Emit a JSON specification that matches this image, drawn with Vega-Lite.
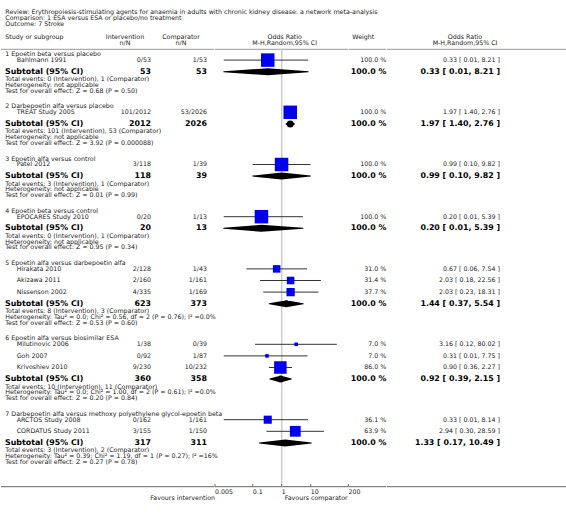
{
  "$schema": "https://vega.github.io/schema/vega-lite/v6.json",
  "padding": 0,
  "bounds": "flush",
  "background": "white",
  "config": {"view": {"stroke": null}, "concat": {"spacing": 0}, "text": {"font": "DejaVu Sans", "fontSize": 6.3, "color": "#222", "fill": "#222"}},
  "datasets": {
    "rows": [
      {"line": -7, "kind": "title", "label": "Review:  Erythropoiesis-stimulating agents for anaemia in adults with chronic kidney disease: a network meta-analysis"},
      {"line": -6, "kind": "title", "label": "Comparison:  1 ESA versus ESA or placebo/no treatment"},
      {"line": -5, "kind": "title", "label": "Outcome:  7 Stroke"},
      {"line": -3, "kind": "head", "label": "Study or subgroup", "int": "Intervention", "comp": "Comparator", "forh": "Odds Ratio", "wt": "Weight", "orci": "Odds Ratio"},
      {"line": -2, "kind": "head", "int": "n/N", "comp": "n/N", "forh": "M-H,Random,95% CI", "orci": "M-H,Random,95% CI"},
      {"line": 0, "kind": "group", "label": "1 Epoetin beta versus placebo"},
      {"line": 1, "kind": "study", "label": "Bahlmann 1991", "int": "0/53", "comp": "1/53", "wt": "100.0 %", "orci": "0.33 [ 0.01, 8.21 ]", "est": 0.33, "lo": 0.01, "hi": 8.21, "w": 100},
      {"line": 3, "kind": "sub", "label": "Subtotal (95% CI)", "int": "53", "comp": "53", "wt": "100.0 %", "orci": "0.33 [ 0.01, 8.21 ]", "est": 0.33, "lo": 0.01, "hi": 8.21},
      {"line": 4, "kind": "note", "label": "Total events: 0 (Intervention), 1 (Comparator)"},
      {"line": 5, "kind": "note", "label": "Heterogeneity: not applicable"},
      {"line": 6, "kind": "note", "label": "Test for overall effect: Z = 0.68 (P = 0.50)"},
      {"line": 9, "kind": "group", "label": "2 Darbepoetin alfa versus placebo"},
      {"line": 10, "kind": "study", "label": "TREAT Study 2005", "int": "101/2012", "comp": "53/2026", "wt": "100.0 %", "orci": "1.97 [ 1.40, 2.76 ]", "est": 1.97, "lo": 1.40, "hi": 2.76, "w": 100},
      {"line": 12, "kind": "sub", "label": "Subtotal (95% CI)", "int": "2012", "comp": "2026", "wt": "100.0 %", "orci": "1.97 [ 1.40, 2.76 ]", "est": 1.97, "lo": 1.40, "hi": 2.76},
      {"line": 13, "kind": "note", "label": "Total events: 101 (Intervention), 53 (Comparator)"},
      {"line": 14, "kind": "note", "label": "Heterogeneity: not applicable"},
      {"line": 15, "kind": "note", "label": "Test for overall effect: Z = 3.92 (P = 0.000088)"},
      {"line": 18, "kind": "group", "label": "3 Epoetin alfa versus control"},
      {"line": 19, "kind": "study", "label": "Patel 2012", "int": "3/118", "comp": "1/39", "wt": "100.0 %", "orci": "0.99 [ 0.10, 9.82 ]", "est": 0.99, "lo": 0.10, "hi": 9.82, "w": 100},
      {"line": 21, "kind": "sub", "label": "Subtotal (95% CI)", "int": "118", "comp": "39", "wt": "100.0 %", "orci": "0.99 [ 0.10, 9.82 ]", "est": 0.99, "lo": 0.10, "hi": 9.82},
      {"line": 22, "kind": "note", "label": "Total events: 3 (Intervention), 1 (Comparator)"},
      {"line": 23, "kind": "note", "label": "Heterogeneity: not applicable"},
      {"line": 24, "kind": "note", "label": "Test for overall effect: Z = 0.01 (P = 0.99)"},
      {"line": 27, "kind": "group", "label": "4 Epoetin beta versus control"},
      {"line": 28, "kind": "study", "label": "EPOCARES Study 2010", "int": "0/20", "comp": "1/13", "wt": "100.0 %", "orci": "0.20 [ 0.01, 5.39 ]", "est": 0.20, "lo": 0.01, "hi": 5.39, "w": 100},
      {"line": 30, "kind": "sub", "label": "Subtotal (95% CI)", "int": "20", "comp": "13", "wt": "100.0 %", "orci": "0.20 [ 0.01, 5.39 ]", "est": 0.20, "lo": 0.01, "hi": 5.39},
      {"line": 31, "kind": "note", "label": "Total events: 0 (Intervention), 1 (Comparator)"},
      {"line": 32, "kind": "note", "label": "Heterogeneity: not applicable"},
      {"line": 33, "kind": "note", "label": "Test for overall effect: Z = 0.95 (P = 0.34)"},
      {"line": 36, "kind": "group", "label": "5 Epoetin alfa versus darbepoetin alfa"},
      {"line": 37, "kind": "study", "label": "Hirakata 2010", "int": "2/128", "comp": "1/43", "wt": "31.0 %", "orci": "0.67 [ 0.06, 7.54 ]", "est": 0.67, "lo": 0.06, "hi": 7.54, "w": 31.0},
      {"line": 39, "kind": "study", "label": "Akizawa 2011", "int": "2/160", "comp": "1/161", "wt": "31.4 %", "orci": "2.03 [ 0.18, 22.56 ]", "est": 2.03, "lo": 0.18, "hi": 22.56, "w": 31.4},
      {"line": 41, "kind": "study", "label": "Nissenson 2002", "int": "4/335", "comp": "1/169", "wt": "37.7 %", "orci": "2.03 [ 0.23, 18.31 ]", "est": 2.03, "lo": 0.23, "hi": 18.31, "w": 37.7},
      {"line": 43, "kind": "sub", "label": "Subtotal (95% CI)", "int": "623", "comp": "373", "wt": "100.0 %", "orci": "1.44 [ 0.37, 5.54 ]", "est": 1.44, "lo": 0.37, "hi": 5.54},
      {"line": 44, "kind": "note", "label": "Total events: 8 (Intervention), 3 (Comparator)"},
      {"line": 45, "kind": "note", "label": "Heterogeneity: Tau² = 0.0; Chi² = 0.56, df = 2 (P = 0.76); I² =0.0%"},
      {"line": 46, "kind": "note", "label": "Test for overall effect: Z = 0.53 (P = 0.60)"},
      {"line": 49, "kind": "group", "label": "6 Epoetin alfa versus biosimilar ESA"},
      {"line": 50, "kind": "study", "label": "Milutinovic 2006", "int": "1/38", "comp": "0/39", "wt": "7.0 %", "orci": "3.16 [ 0.12, 80.02 ]", "est": 3.16, "lo": 0.12, "hi": 80.02, "w": 7.0},
      {"line": 52, "kind": "study", "label": "Goh 2007", "int": "0/92", "comp": "1/87", "wt": "7.0 %", "orci": "0.31 [ 0.01, 7.75 ]", "est": 0.31, "lo": 0.01, "hi": 7.75, "w": 7.0},
      {"line": 54, "kind": "study", "label": "Krivoshiev 2010", "int": "9/230", "comp": "10/232", "wt": "86.0 %", "orci": "0.90 [ 0.36, 2.27 ]", "est": 0.90, "lo": 0.36, "hi": 2.27, "w": 86.0},
      {"line": 56, "kind": "sub", "label": "Subtotal (95% CI)", "int": "360", "comp": "358", "wt": "100.0 %", "orci": "0.92 [ 0.39, 2.15 ]", "est": 0.92, "lo": 0.39, "hi": 2.15},
      {"line": 57, "kind": "note", "label": "Total events: 10 (Intervention), 11 (Comparator)"},
      {"line": 58, "kind": "note", "label": "Heterogeneity: Tau² = 0.0; Chi² = 1.00, df = 2 (P = 0.61); I² =0.0%"},
      {"line": 59, "kind": "note", "label": "Test for overall effect: Z = 0.20 (P = 0.84)"},
      {"line": 62, "kind": "group", "label": "7 Darbepoetin alfa versus methoxy polyethylene glycol-epoetin beta"},
      {"line": 63, "kind": "study", "label": "ARCTOS Study 2008", "int": "0/162", "comp": "1/161", "wt": "36.1 %", "orci": "0.33 [ 0.01, 8.14 ]", "est": 0.33, "lo": 0.01, "hi": 8.14, "w": 36.1},
      {"line": 65, "kind": "study", "label": "CORDATUS Study 2011", "int": "3/155", "comp": "1/150", "wt": "63.9 %", "orci": "2.94 [ 0.30, 28.59 ]", "est": 2.94, "lo": 0.30, "hi": 28.59, "w": 63.9},
      {"line": 67, "kind": "sub", "label": "Subtotal (95% CI)", "int": "317", "comp": "311", "wt": "100.0 %", "orci": "1.33 [ 0.17, 10.49 ]", "est": 1.33, "lo": 0.17, "hi": 10.49},
      {"line": 68, "kind": "note", "label": "Total events: 3 (Intervention), 2 (Comparator)"},
      {"line": 69, "kind": "note", "label": "Heterogeneity: Tau² = 0.39; Chi² = 1.19, df = 1 (P = 0.27); I² =16%"},
      {"line": 70, "kind": "note", "label": "Test for overall effect: Z = 0.27 (P = 0.78)"}
    ],
    "ticks": [
      {"v": 0.005, "lab": "0.005"},
      {"v": 0.1, "lab": "0.1"},
      {"v": 1, "lab": "1"},
      {"v": 10, "lab": "10"},
      {"v": 200, "lab": "200"}
    ]
  },
  "hconcat": [
    {
      "width": 150, "height": 517,
      "data": {"name": "rows"},
      "layer": [
        {"data": {"values": [{"a": 1}]}, "mark": {"type": "rule", "color": "#999", "strokeWidth": 1}, "encoding": {"y": {"datum": -0.86, "type": "quantitative", "scale": {"domain": [-9.362, 79.776], "reverse": true, "nice": false, "zero": false}, "axis": null}}},
        {"data": {"values": [{"a": 1}]}, "mark": {"type": "rule", "color": "#666", "strokeWidth": 1}, "encoding": {"y": {"datum": 74.55, "type": "quantitative", "scale": {"domain": [-9.362, 79.776], "reverse": true, "nice": false, "zero": false}, "axis": null}}},
        {"transform": [{"filter": "datum.kind === 'title'"}], "mark": {"type": "text", "align": "left", "baseline": "middle", "dx": 4.3, "dy": -1.5, "color": "#222"},
         "encoding": {"x": {"value": 0}, "y": {"field": "line", "type": "quantitative", "scale": {"domain": [-9.362, 79.776], "reverse": true, "nice": false, "zero": false}, "axis": null}, "text": {"field": "label"}}},
        {"transform": [{"filter": "(datum.kind === 'head' || datum.kind === 'group') && datum.label != null"}], "mark": {"type": "text", "align": "left", "baseline": "middle", "dx": 4.3, "color": "#222"},
         "encoding": {"x": {"value": 0}, "y": {"field": "line", "type": "quantitative", "scale": {"domain": [-9.362, 79.776], "reverse": true, "nice": false, "zero": false}, "axis": null}, "text": {"field": "label"}}},
        {"transform": [{"filter": "datum.kind === 'study'"}], "mark": {"type": "text", "align": "left", "baseline": "middle", "dx": 15.7, "color": "#222"},
         "encoding": {"x": {"value": 0}, "y": {"field": "line", "type": "quantitative", "scale": {"domain": [-9.362, 79.776], "reverse": true, "nice": false, "zero": false}, "axis": null}, "text": {"field": "label"}}},
        {"transform": [{"filter": "datum.kind === 'note'"}], "mark": {"type": "text", "align": "left", "baseline": "middle", "dx": 4.3, "dy": 1.8, "color": "#222"},
         "encoding": {"x": {"value": 0}, "y": {"field": "line", "type": "quantitative", "scale": {"domain": [-9.362, 79.776], "reverse": true, "nice": false, "zero": false}, "axis": null}, "text": {"field": "label"}}},
        {"transform": [{"filter": "datum.kind === 'sub'"}], "mark": {"type": "text", "align": "left", "baseline": "middle", "dx": 4, "fontSize": 7.9, "fontWeight": "bold", "color": "#000"},
         "encoding": {"x": {"value": 0}, "y": {"field": "line", "type": "quantitative", "scale": {"domain": [-9.362, 79.776], "reverse": true, "nice": false, "zero": false}, "axis": null}, "text": {"field": "label"}}},
        {"transform": [{"filter": "datum.kind === 'study'"}], "mark": {"type": "text", "align": "right", "baseline": "middle", "color": "#222"},
         "encoding": {"x": {"value": "width"}, "y": {"field": "line", "type": "quantitative", "scale": {"domain": [-9.362, 79.776], "reverse": true, "nice": false, "zero": false}, "axis": null}, "text": {"field": "int"}}},
        {"transform": [{"filter": "datum.kind === 'sub'"}], "mark": {"type": "text", "align": "right", "baseline": "middle", "fontSize": 7.9, "fontWeight": "bold", "color": "#000"},
         "encoding": {"x": {"value": "width"}, "y": {"field": "line", "type": "quantitative", "scale": {"domain": [-9.362, 79.776], "reverse": true, "nice": false, "zero": false}, "axis": null}, "text": {"field": "int"}}},
        {"transform": [{"filter": "datum.kind === 'head' && datum.int != null"}], "mark": {"type": "text", "align": "center", "baseline": "middle", "dx": -26, "color": "#222"},
         "encoding": {"x": {"value": "width"}, "y": {"field": "line", "type": "quantitative", "scale": {"domain": [-9.362, 79.776], "reverse": true, "nice": false, "zero": false}, "axis": null}, "text": {"field": "int"}}}
      ]
    },
    {
      "width": 63.3, "height": 517,
      "data": {"name": "rows"},
      "layer": [
        {"data": {"values": [{"a": 1}]}, "mark": {"type": "rule", "color": "#999", "strokeWidth": 1}, "encoding": {"y": {"datum": -0.86, "type": "quantitative", "scale": {"domain": [-9.362, 79.776], "reverse": true, "nice": false, "zero": false}, "axis": null}}},
        {"data": {"values": [{"a": 1}]}, "mark": {"type": "rule", "color": "#666", "strokeWidth": 1}, "encoding": {"y": {"datum": 74.55, "type": "quantitative", "scale": {"domain": [-9.362, 79.776], "reverse": true, "nice": false, "zero": false}, "axis": null}}},
        {"transform": [{"filter": "datum.kind === 'study'"}], "mark": {"type": "text", "align": "right", "baseline": "middle", "dx": -7.3, "color": "#222"},
         "encoding": {"x": {"value": "width"}, "y": {"field": "line", "type": "quantitative", "scale": {"domain": [-9.362, 79.776], "reverse": true, "nice": false, "zero": false}, "axis": null}, "text": {"field": "comp"}}},
        {"transform": [{"filter": "datum.kind === 'sub'"}], "mark": {"type": "text", "align": "right", "baseline": "middle", "dx": -7.3, "fontSize": 7.9, "fontWeight": "bold", "color": "#000"},
         "encoding": {"x": {"value": "width"}, "y": {"field": "line", "type": "quantitative", "scale": {"domain": [-9.362, 79.776], "reverse": true, "nice": false, "zero": false}, "axis": null}, "text": {"field": "comp"}}},
        {"transform": [{"filter": "datum.kind === 'head' && datum.comp != null"}], "mark": {"type": "text", "align": "center", "baseline": "middle", "dx": -33.3, "color": "#222"},
         "encoding": {"x": {"value": "width"}, "y": {"field": "line", "type": "quantitative", "scale": {"domain": [-9.362, 79.776], "reverse": true, "nice": false, "zero": false}, "axis": null}, "text": {"field": "comp"}}}
      ]
    },
    {
      "width": 133.4, "height": 517,
      "data": {"name": "rows"},
      "layer": [
        {"data": {"values": [{"a": 1}]}, "mark": {"type": "rule", "color": "#999", "strokeWidth": 1}, "encoding": {"y": {"datum": -0.86, "type": "quantitative", "scale": {"domain": [-9.362, 79.776], "reverse": true, "nice": false, "zero": false}, "axis": null}}},
        {"data": {"values": [{"a": 1}]}, "mark": {"type": "rule", "color": "#666", "strokeWidth": 1}, "encoding": {"y": {"datum": 74.55, "type": "quantitative", "scale": {"domain": [-9.362, 79.776], "reverse": true, "nice": false, "zero": false}, "axis": null}}},
        {"data": {"values": [{"a": 1}]}, "mark": {"type": "rule", "color": "#cccccc", "strokeWidth": 1.5},
         "encoding": {"x": {"datum": 1, "type": "quantitative", "scale": {"type": "log", "domain": [0.005, 200], "nice": false}, "axis": null},
                      "y": {"datum": -0.86, "type": "quantitative", "scale": {"domain": [-9.362, 79.776], "reverse": true, "nice": false, "zero": false}, "axis": null},
                      "y2": {"datum": 74.55}}},
        {"transform": [{"filter": "datum.kind === 'head' && datum.forh != null"}], "mark": {"type": "text", "align": "center", "baseline": "middle", "dx": 3, "color": "#222"},
         "encoding": {"x": {"datum": 1, "type": "quantitative", "scale": {"type": "log", "domain": [0.005, 200], "nice": false}, "axis": null},
                      "y": {"field": "line", "type": "quantitative", "scale": {"domain": [-9.362, 79.776], "reverse": true, "nice": false, "zero": false}, "axis": null}, "text": {"field": "forh"}}},
        {"transform": [{"filter": "datum.kind === 'study'"}], "mark": {"type": "rule", "color": "#333", "strokeWidth": 1},
         "encoding": {"x": {"field": "lo", "type": "quantitative", "scale": {"type": "log", "domain": [0.005, 200], "nice": false}, "axis": null}, "x2": {"field": "hi"},
                      "y": {"field": "line", "type": "quantitative", "scale": {"domain": [-9.362, 79.776], "reverse": true, "nice": false, "zero": false}, "axis": null}}},
        {"transform": [{"filter": "datum.kind === 'study'"}], "mark": {"type": "point", "shape": "square", "filled": true, "color": "#0000ee", "opacity": 1},
         "encoding": {"x": {"field": "est", "type": "quantitative", "scale": {"type": "log", "domain": [0.005, 200], "nice": false}, "axis": null},
                      "y": {"field": "line", "type": "quantitative", "scale": {"domain": [-9.362, 79.776], "reverse": true, "nice": false, "zero": false}, "axis": null},
                      "size": {"field": "w", "type": "quantitative", "scale": {"domain": [0, 100], "range": [0, 182]}, "legend": null}}},
        {"transform": [{"filter": "datum.kind === 'sub'"}, {"fold": ["lo", "est", "hi"], "as": ["k", "v"]}], "mark": {"type": "trail", "color": "#000"},
         "encoding": {"x": {"field": "v", "type": "quantitative", "scale": {"type": "log", "domain": [0.005, 200], "nice": false}, "axis": null},
                      "y": {"field": "line", "type": "quantitative", "scale": {"domain": [-9.362, 79.776], "reverse": true, "nice": false, "zero": false}, "axis": null},
                      "size": {"field": "k", "type": "nominal", "scale": {"type": "ordinal", "domain": ["lo", "est", "hi"], "range": [0, 7, 0]}, "legend": null},
                      "detail": {"field": "line", "type": "nominal"},
                      "order": {"field": "v", "type": "quantitative"}}},
        {"data": {"name": "ticks"}, "mark": {"type": "rule", "color": "#666", "strokeWidth": 1},
         "encoding": {"x": {"field": "v", "type": "quantitative", "scale": {"type": "log", "domain": [0.005, 200], "nice": false}, "axis": null},
                      "y": {"datum": 74.1, "type": "quantitative", "scale": {"domain": [-9.362, 79.776], "reverse": true, "nice": false, "zero": false}, "axis": null},
                      "y2": {"datum": 74.55}}},
        {"data": {"name": "ticks"}, "mark": {"type": "text", "align": "left", "baseline": "middle", "color": "#222"},
         "encoding": {"x": {"field": "v", "type": "quantitative", "scale": {"type": "log", "domain": [0.005, 200], "nice": false}, "axis": null},
                      "y": {"datum": 75.4, "type": "quantitative", "scale": {"domain": [-9.362, 79.776], "reverse": true, "nice": false, "zero": false}, "axis": null},
                      "text": {"field": "lab"}}},
        {"data": {"values": [{"v": 0.005, "lab": "Favours intervention"}]}, "mark": {"type": "text", "align": "right", "baseline": "middle", "color": "#222"},
         "encoding": {"x": {"field": "v", "type": "quantitative", "scale": {"type": "log", "domain": [0.005, 200], "nice": false}, "axis": null},
                      "y": {"datum": 76.55, "type": "quantitative", "scale": {"domain": [-9.362, 79.776], "reverse": true, "nice": false, "zero": false}, "axis": null},
                      "text": {"field": "lab"}}},
        {"data": {"values": [{"v": 1, "lab": "Favours comparator"}]}, "mark": {"type": "text", "align": "left", "baseline": "middle", "dx": 3, "color": "#222"},
         "encoding": {"x": {"field": "v", "type": "quantitative", "scale": {"type": "log", "domain": [0.005, 200], "nice": false}, "axis": null},
                      "y": {"datum": 76.55, "type": "quantitative", "scale": {"domain": [-9.362, 79.776], "reverse": true, "nice": false, "zero": false}, "axis": null},
                      "text": {"field": "lab"}}}
      ]
    },
    {
      "width": 37.3, "height": 517,
      "data": {"name": "rows"},
      "layer": [
        {"data": {"values": [{"a": 1}]}, "mark": {"type": "rule", "color": "#999", "strokeWidth": 1}, "encoding": {"y": {"datum": -0.86, "type": "quantitative", "scale": {"domain": [-9.362, 79.776], "reverse": true, "nice": false, "zero": false}, "axis": null}}},
        {"data": {"values": [{"a": 1}]}, "mark": {"type": "rule", "color": "#666", "strokeWidth": 1}, "encoding": {"y": {"datum": 74.55, "type": "quantitative", "scale": {"domain": [-9.362, 79.776], "reverse": true, "nice": false, "zero": false}, "axis": null}}},
        {"transform": [{"filter": "datum.kind === 'study'"}], "mark": {"type": "text", "align": "right", "baseline": "middle", "color": "#222"},
         "encoding": {"x": {"value": "width"}, "y": {"field": "line", "type": "quantitative", "scale": {"domain": [-9.362, 79.776], "reverse": true, "nice": false, "zero": false}, "axis": null}, "text": {"field": "wt"}}},
        {"transform": [{"filter": "datum.kind === 'sub'"}], "mark": {"type": "text", "align": "right", "baseline": "middle", "fontSize": 7.9, "fontWeight": "bold", "color": "#000"},
         "encoding": {"x": {"value": "width"}, "y": {"field": "line", "type": "quantitative", "scale": {"domain": [-9.362, 79.776], "reverse": true, "nice": false, "zero": false}, "axis": null}, "text": {"field": "wt"}}},
        {"transform": [{"filter": "datum.kind === 'head' && datum.wt != null"}], "mark": {"type": "text", "align": "center", "baseline": "middle", "dx": -23, "color": "#222"},
         "encoding": {"x": {"value": "width"}, "y": {"field": "line", "type": "quantitative", "scale": {"domain": [-9.362, 79.776], "reverse": true, "nice": false, "zero": false}, "axis": null}, "text": {"field": "wt"}}}
      ]
    },
    {
      "width": 182, "height": 517,
      "data": {"name": "rows"},
      "layer": [
        {"data": {"values": [{"a": 1}]}, "mark": {"type": "rule", "color": "#999", "strokeWidth": 1}, "encoding": {"y": {"datum": -0.86, "type": "quantitative", "scale": {"domain": [-9.362, 79.776], "reverse": true, "nice": false, "zero": false}, "axis": null}}},
        {"data": {"values": [{"a": 1}]}, "mark": {"type": "rule", "color": "#666", "strokeWidth": 1}, "encoding": {"y": {"datum": 74.55, "type": "quantitative", "scale": {"domain": [-9.362, 79.776], "reverse": true, "nice": false, "zero": false}, "axis": null}}},
        {"transform": [{"filter": "datum.kind === 'study'"}], "mark": {"type": "text", "align": "right", "baseline": "middle", "dx": 113, "color": "#222"},
         "encoding": {"x": {"value": 0}, "y": {"field": "line", "type": "quantitative", "scale": {"domain": [-9.362, 79.776], "reverse": true, "nice": false, "zero": false}, "axis": null}, "text": {"field": "orci"}}},
        {"transform": [{"filter": "datum.kind === 'sub'"}], "mark": {"type": "text", "align": "right", "baseline": "middle", "dx": 113, "fontSize": 7.9, "fontWeight": "bold", "color": "#000"},
         "encoding": {"x": {"value": 0}, "y": {"field": "line", "type": "quantitative", "scale": {"domain": [-9.362, 79.776], "reverse": true, "nice": false, "zero": false}, "axis": null}, "text": {"field": "orci"}}},
        {"transform": [{"filter": "datum.kind === 'head' && datum.orci != null"}], "mark": {"type": "text", "align": "center", "baseline": "middle", "dx": 78, "color": "#222"},
         "encoding": {"x": {"value": 0}, "y": {"field": "line", "type": "quantitative", "scale": {"domain": [-9.362, 79.776], "reverse": true, "nice": false, "zero": false}, "axis": null}, "text": {"field": "orci"}}}
      ]
    }
  ]
}
